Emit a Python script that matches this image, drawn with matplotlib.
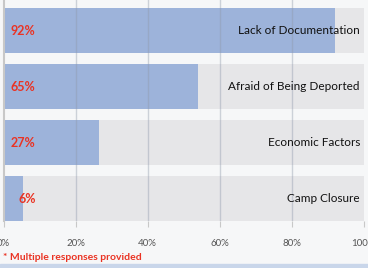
import matplotlib.pyplot as plt
from matplotlib.patches import Rectangle

categories = ["Lack of Documentation", "Afraid of Being Deported",
              "Economic Factors", "Camp Closure"]
bar_values = [92, 54, 26.5, 5.3]          # bar lengths as drawn
value_labels = ["92%", "65%", "27%", "6%"]
xticks = [0, 20, 40, 60, 80, 100]
xtick_labels = ["0%", "20%", "40%", "60%", "80%", "100%"]
footnote = "* Multiple responses provided"

blue = "#9db3da"
grey = "#e6e6e8"
red = "#ea3323"
bg = "#f6f7f8"

fig = plt.figure(figsize=(3.68, 2.68), dpi=100, facecolor=bg)
ax = fig.add_axes([3.5 / 368, 47 / 268, 360 / 368, 221 / 268])
ax.set_facecolor(bg)

ypos = list(range(len(categories)))
ax.barh(ypos, [100] * len(categories), height=0.8, color=grey, zorder=1)
ax.barh(ypos, bar_values, height=0.8, color=blue, zorder=2)

ax.set_xlim(0, 100)
ax.set_ylim(3.4, -0.545)

for x in xticks[1:-1]:
    ax.axvline(x, color="#8e98aa", lw=1, alpha=0.4, zorder=3)

for y, lab, name in zip(ypos, value_labels, categories):
    ax.text(8.9, y, lab, color=red, fontsize=9, fontweight="bold",
            family="Lato", ha="right", va="center", zorder=4)
    ax.text(99, y, name, color="#111111", fontsize=8.5, family="Lato",
            ha="right", va="center", zorder=4)

ax.set_yticks([])
ax.set_xticks(xticks)
ax.set_xticklabels(xtick_labels, fontsize=7, color="#555555", family="Lato")
ax.tick_params(axis="x", length=4, color="#c8c8c8", pad=9)
for s in ["top", "right", "bottom"]:
    ax.spines[s].set_visible(False)
ax.spines["left"].set_color("#c8c8c8")
ax.spines["left"].set_linewidth(1.5)

fig.text(3 / 368, 1 - 257 / 268, footnote, color=red, fontsize=7.5,
         fontweight="bold", family="Lato", ha="left", va="center")
fig.patches.append(Rectangle((0, 0), 1, 4 / 268, transform=fig.transFigure,
                             color="#c9d6ea", zorder=0))

fig.savefig("out.png", dpi=100, facecolor=bg)
